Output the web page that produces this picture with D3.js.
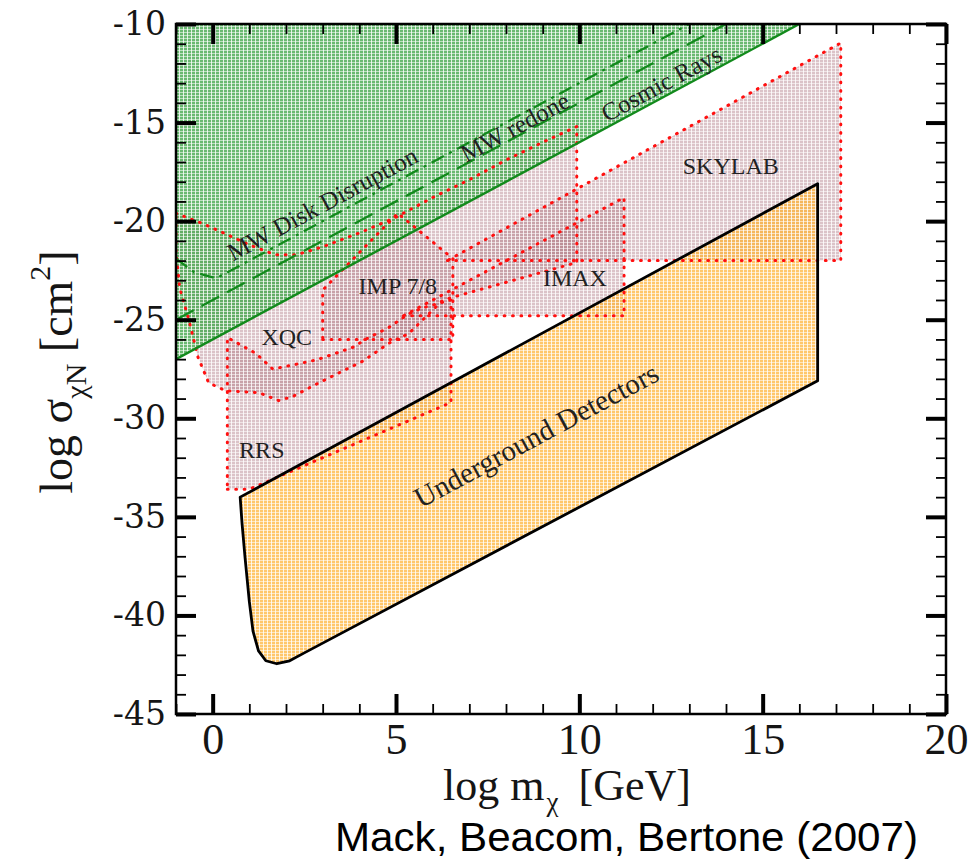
<!DOCTYPE html>
<html>
<head>
<meta charset="utf-8">
<script src="https://cdn.jsdelivr.net/npm/d3@7.9.0/dist/d3.min.js"></script>
<style>
  html, body { margin: 0; padding: 0; background: #fff; }
  svg text { font-family: "Liberation Serif", "Times New Roman", serif; fill: #151515; }
</style>
</head>
<body>
<svg id="chart" width="971" height="863"></svg>
<script>
// axes: log m (GeV) and log sigma (cm^2)
const xDomain = [-1, 20];
const yDomain = [-45, -10];
const xMajor = [0, 5, 10, 15, 20];
const xMinor = [-1, 1, 2, 3, 4, 6, 7, 8, 9, 11, 12, 13, 14, 16, 17, 18, 19];
const yMajor = [-45, -40, -35, -30, -25, -20, -15, -10];
const yMinor = [-44, -43, -42, -41, -39, -38, -37, -36, -34, -33, -32, -31,
                -29, -28, -27, -26, -24, -23, -22, -21, -19, -18, -17, -16,
                -14, -13, -12, -11];

// green bounds
const cosmicRays = [[-1, -27], [16, -10]];
const mwRedone   = [[-1, -25], [14, -10]];
const mwDisk     = [[-1, -21.9], [-0.5, -22.6], [0.1, -22.9], [0.6, -22.4], [13, -10]];
const greenArea  = [[-1, -27], [16, -10], [-1, -10]];

// red dotted exclusion regions
const xqc = [[-1, -19.6], [-0.3, -20.1], [0.3, -20.6], [1.0, -21.2], [1.7, -21.7], [2.3, -21.7],
             [3.0, -21.3], [4.0, -20.6], [5.0, -19.8], [6.0, -18.8], [7.0, -17.9], [8.0, -16.9],
             [9.0, -16.0], [9.93, -15.2], [9.93, -22.1], [6.28, -24.0], [5.35, -25.7], [4.8, -26.2],
             [4.1, -27.1], [3.55, -27.6], [2.9, -28.2], [2.18, -28.9], [1.8, -29.1], [1.26, -28.7],
             [0.35, -28.6], [-0.11, -28.2], [-0.4, -26.9], [-0.65, -25.0], [-0.9, -23.4], [-1, -21.5]];
const rrs = [[0.4, -33.6], [1.0, -33.6], [6.5, -29.2], [6.5, -24.0], [5.73, -24.4], [5.35, -24.7],
             [4.8, -25.4], [4.26, -25.9], [3.82, -26.4], [3.36, -26.7], [2.81, -27.05], [2.18, -27.3],
             [1.64, -27.5], [1.17, -26.7], [0.4, -25.9]];
const imp78  = [[3.0, -26.0], [6.55, -26.0], [6.55, -21.9], [5.05, -19.6], [3.0, -23.5]];
const imax   = [[5.2, -24.8], [11.22, -24.8], [11.22, -18.8]];
const skylab = [[6.4, -22.0], [17.13, -22.0], [17.13, -10.96]];

// underground detectors
const underground = [[0.75, -34.0], [16.5, -18.1], [16.5, -28.1], [2.5, -41.9], [2.1, -42.3],
                     [1.75, -42.45], [1.45, -42.3], [1.25, -41.8], [1.1, -40.8], [1.0, -39.3],
                     [0.88, -37.0], [0.8, -35.3]];

// label text and data anchor
const labels = [
  { text: 'MW Disk Disruption', at: [3.1, -19.5], tilt: true },
  { text: 'MW redone', at: [8.35, -15.6], tilt: true },
  { text: 'Cosmic Rays', at: [12.35, -13.4], tilt: true },
  { text: 'SKYLAB', at: [14.13, -17.6], tilt: false },
  { text: 'IMAX', at: [9.88, -23.3], tilt: false },
  { text: 'IMP 7/8', at: [5.05, -23.7], tilt: false },
  { text: 'XQC', at: [2.02, -26.3], tilt: false },
  { text: 'RRS', at: [1.34, -32.0], tilt: false },
  { text: 'Underground Detectors', at: [8.95, -31.3], tilt: true, big: true }
];

const svg = d3.select('#chart');
const x = d3.scaleLinear().domain(xDomain).range([176, 946]);
const y = d3.scaleLinear().domain(yDomain).range([714, 24]);
const [x0, x1] = x.range();
const [y0, y1] = y.range();

const defs = svg.append('defs');
defs.append('clipPath').attr('id', 'plot')
  .append('rect').attr('x', x0).attr('y', y1).attr('width', x1 - x0).attr('height', y0 - y1);

function texture(id, base) {
  const p = defs.append('pattern').attr('id', id)
    .attr('patternUnits', 'userSpaceOnUse').attr('width', 4).attr('height', 3);
  p.append('rect').attr('width', 4).attr('height', 3).attr('fill', base);
  p.append('rect').attr('x', 3).attr('width', 1).attr('height', 3).attr('fill', '#fff').attr('opacity', 0.8);
  p.append('rect').attr('y', 2).attr('width', 4).attr('height', 1).attr('fill', '#fff').attr('opacity', 0.55);
}
texture('tGreen', '#45a84d');
texture('tPink', '#b07a84');
texture('tOrange', '#ffb232');

const line = d3.line().x(d => x(d[0])).y(d => y(d[1]));
const shape = d3.line().x(d => x(d[0])).y(d => y(d[1])).curve(d3.curveLinearClosed);

const g = svg.append('g').attr('clip-path', 'url(#plot)');
const regions = [xqc, rrs, imp78, imax, skylab];

g.selectAll('path.fill').data(regions).join('path')
  .attr('class', 'fill')
  .attr('d', shape)
  .attr('fill', 'url(#tPink)')
  .attr('fill-opacity', 0.45);

g.append('path').attr('d', shape(underground))
  .attr('fill', 'url(#tOrange)').attr('fill-opacity', 0.72);

g.append('path').attr('d', shape(greenArea))
  .attr('fill', 'url(#tGreen)').attr('fill-opacity', 0.8);

g.selectAll('path.edge').data(regions).join('path')
  .attr('class', 'edge')
  .attr('d', shape)
  .attr('fill', 'none')
  .attr('stroke', '#ff1010')
  .attr('stroke-width', 3)
  .attr('stroke-linecap', 'round')
  .attr('stroke-dasharray', '0.8 7.6');

g.append('path').attr('d', shape(underground))
  .attr('fill', 'none').attr('stroke', '#000').attr('stroke-width', 2.8)
  .attr('stroke-linejoin', 'round');

g.append('path').attr('d', line(cosmicRays))
  .attr('fill', 'none').attr('stroke', '#128a1c').attr('stroke-width', 2.4);
g.append('path').attr('d', line(mwRedone))
  .attr('fill', 'none').attr('stroke', '#128a1c').attr('stroke-width', 2.3)
  .attr('stroke-dasharray', '20 9');
g.append('path').attr('d', line(mwDisk))
  .attr('fill', 'none').attr('stroke', '#128a1c').attr('stroke-width', 2.3)
  .attr('stroke-dasharray', '14 6 3 6');

// slope-one lines are tilted by this angle on screen
const tilt = Math.atan2(y(-44) - y(-45), x(1) - x(0)) * 180 / Math.PI;

svg.append('g').selectAll('text').data(labels).join('text')
  .attr('transform', d => `translate(${x(d.at[0])},${y(d.at[1])})` + (d.tilt ? ` rotate(${tilt})` : ''))
  .attr('text-anchor', 'middle')
  .style('font-size', d => d.big ? '29px' : (d.tilt ? '25px' : '24px'))
  .style('fill', '#222')
  .text(d => d.text);

// axes with inward ticks on all four sides
function styleAxis(sel, major) {
  sel.select('.domain').remove();
  sel.selectAll('.tick line').attr('stroke', '#000').attr('stroke-width', major ? 4 : 1.8);
}
const fmt = d => String(d);

svg.append('g').attr('transform', `translate(0,${y0})`)
  .call(d3.axisBottom(x).tickValues(xMajor).tickSize(-20).tickPadding(9).tickFormat(fmt))
  .call(s => styleAxis(s, true))
  .selectAll('text').style('font-family', '"Liberation Serif", serif').style('font-size', '44px').attr('fill', '#111');
svg.append('g').attr('transform', `translate(0,${y0})`)
  .call(d3.axisBottom(x).tickValues(xMinor).tickSize(-10).tickFormat(''))
  .call(s => styleAxis(s, false));
svg.append('g').attr('transform', `translate(0,${y1})`)
  .call(d3.axisTop(x).tickValues(xMajor).tickSize(-20).tickFormat(''))
  .call(s => styleAxis(s, true));
svg.append('g').attr('transform', `translate(0,${y1})`)
  .call(d3.axisTop(x).tickValues(xMinor).tickSize(-10).tickFormat(''))
  .call(s => styleAxis(s, false));

svg.append('g').attr('transform', `translate(${x0},0)`)
  .call(d3.axisLeft(y).tickValues(yMajor).tickSize(-20).tickPadding(10).tickFormat(fmt))
  .call(s => styleAxis(s, true))
  .selectAll('text').style('font-family', '"DejaVu Serif", serif').style('font-size', '33px').attr('fill', '#111');
svg.append('g').attr('transform', `translate(${x0},0)`)
  .call(d3.axisLeft(y).tickValues(yMinor).tickSize(-10).tickFormat(''))
  .call(s => styleAxis(s, false));
svg.append('g').attr('transform', `translate(${x1},0)`)
  .call(d3.axisRight(y).tickValues(yMajor).tickSize(-20).tickFormat(''))
  .call(s => styleAxis(s, true));
svg.append('g').attr('transform', `translate(${x1},0)`)
  .call(d3.axisRight(y).tickValues(yMinor).tickSize(-10).tickFormat(''))
  .call(s => styleAxis(s, false));

svg.append('rect').attr('x', x0).attr('y', y1).attr('width', x1 - x0).attr('height', y0 - y1)
  .attr('fill', 'none').attr('stroke', '#000').attr('stroke-width', 2.5);

// axis titles
const xt = svg.append('text').attr('x', 567).attr('y', 800).attr('text-anchor', 'middle')
  .style('font-size', '44px');
xt.append('tspan').text('log m');
xt.append('tspan').attr('dx', 2).attr('dy', 11).style('font-size', '27px').text('χ');
xt.append('tspan').attr('dx', 20).attr('dy', -11).text('[GeV]');

const yt = svg.append('text').attr('transform', 'translate(72,372) rotate(-90)')
  .attr('text-anchor', 'middle').style('font-size', '46px');
yt.append('tspan').text('log σ');
yt.append('tspan').attr('dy', 14).style('font-size', '30px').text('χN');
yt.append('tspan').attr('dy', -14).text('  [cm');
yt.append('tspan').attr('dy', -22).style('font-size', '30px').text('2');
yt.append('tspan').attr('dy', 22).text(']');

svg.append('text').attr('x', 335).attr('y', 851)
  .attr('textLength', 583).attr('lengthAdjust', 'spacingAndGlyphs')
  .style('font-family', '"Liberation Sans", Arial, sans-serif').style('font-size', '40px').style('fill', '#000')
  .text('Mack, Beacom, Bertone (2007)');
</script>
</body>
</html>
